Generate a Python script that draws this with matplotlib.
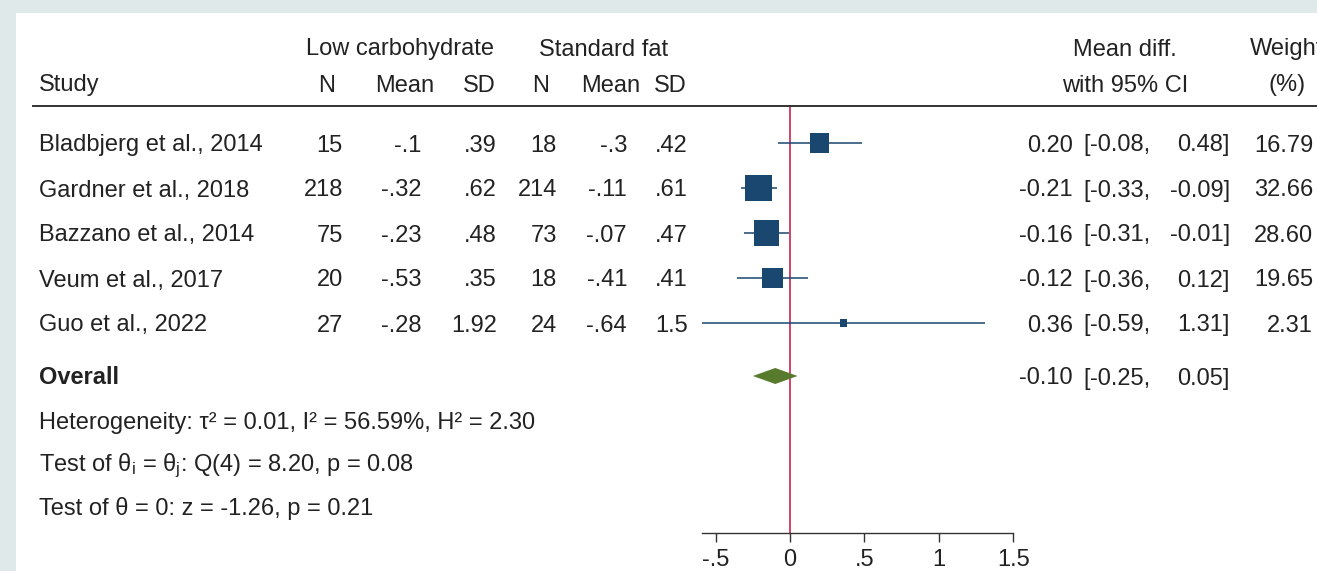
import numpy as np
import matplotlib
matplotlib.use("Agg")
import matplotlib.pyplot as plt
from matplotlib.patches import Rectangle, Polygon
from matplotlib.lines import Line2D
from matplotlib.ticker import FuncFormatter

plt.rcParams['font.family'] = ['Liberation Sans', 'DejaVu Sans']
plt.rcParams['axes.unicode_minus'] = False
plt.rcParams['mathtext.fontset'] = 'custom'
plt.rcParams['mathtext.rm'] = 'Liberation Sans'
plt.rcParams['mathtext.it'] = 'Liberation Sans:italic'
plt.rcParams['mathtext.bf'] = 'Liberation Sans:bold'

# data
studies = ["Bladbjerg et al., 2014", "Gardner et al., 2018", "Bazzano et al., 2014",
           "Veum et al., 2017", "Guo et al., 2022"]
n_low = [15, 218, 75, 20, 27]
mean_low = [-0.1, -0.32, -0.23, -0.53, -0.28]
sd_low = [0.39, 0.62, 0.48, 0.35, 1.92]
n_std = [18, 214, 73, 18, 24]
mean_std = [-0.3, -0.11, -0.07, -0.41, -0.64]
sd_std = [0.42, 0.61, 0.47, 0.41, 1.5]
est = [0.20, -0.21, -0.16, -0.12, 0.36]
ci_lo = [-0.08, -0.33, -0.31, -0.36, -0.59]
ci_hi = [0.48, -0.09, -0.01, 0.12, 1.31]
weight = [16.79, 32.66, 28.60, 19.65, 2.31]
overall = [-0.10, -0.25, 0.05]
xticks = [-0.5, 0, 0.5, 1, 1.5]
stats_lines = ["Heterogeneity: \u03c4\u00b2 = 0.01, I\u00b2 = 56.59%, H\u00b2 = 2.30",
               "Test of \u03b8$_\\mathrm{i}$ = \u03b8$_\\mathrm{j}$: Q(4) = 8.20, p = 0.08",
               "Test of \u03b8 = 0: z = -1.26, p = 0.21"]

W, H = 1317, 571
FS = 17.0
TXT = '#222222'
NAVY = '#1a476f'
GREEN = '#587a2d'
RED = '#c0123e'

# layout (pixels from top-left)
row_y = [143, 188, 233, 278, 323]
overall_y = 376
stats_y = [420, 463, 506]
line_y = 106
axis_y = 533


def sfmt(v):
    # stata style: drop the leading zero
    s = f"{v:g}"
    if s.startswith("0.") or s.startswith("-0."):
        s = s.replace("0.", ".", 1)
    return s


fig = plt.figure(figsize=(W / 100, H / 100), dpi=100)
fig.patch.set_facecolor('#dfe9e9')
fig.add_artist(Rectangle((16 / W, 0), 1, 1 - 13 / H, transform=fig.transFigure,
                         facecolor='white', edgecolor='none', zorder=0))


def put(x, y, s, ha='left', **kw):
    # y is the visual middle of the caps/digits
    fig.text(x / W, 1 - (y + 8.5) / H, s, ha=ha, va='baseline',
             fontsize=FS, color=TXT, **kw)


# header
put(400, 47, "Low carbohydrate", ha='center')
put(604, 47, "Standard fat", ha='center')
put(1125, 47, "Mean diff.", ha='center')
put(1287, 47, "Weight", ha='center')
put(39, 83, "Study")
for cx, lab in zip([327, 405, 479, 541, 611, 670], ["N", "Mean", "SD", "N", "Mean", "SD"]):
    put(cx, 83, lab, ha='center')
put(1125, 83, "with 95% CI", ha='center')
put(1287, 83, "(%)", ha='center')
fig.add_artist(Line2D([33 / W, 1], [1 - line_y / H] * 2, transform=fig.transFigure,
                      color='#333333', lw=1.4))

# table rows
cols_right = [343, 421, 497, 557, 627, 688]
for i, y in enumerate(row_y):
    put(39, y, studies[i])
    vals = [str(n_low[i]), sfmt(mean_low[i]), sfmt(sd_low[i]),
            str(n_std[i]), sfmt(mean_std[i]), sfmt(sd_std[i])]
    for xr, v in zip(cols_right, vals):
        put(xr, y, v, ha='right')
    put(1073, y, f"{est[i]:.2f}", ha='right')
    put(1083, y, "[")
    put(1150, y, f"{ci_lo[i]:.2f},", ha='right')
    put(1230, y, f"{ci_hi[i]:.2f}]", ha='right')
    put(1313, y, f"{weight[i]:.2f}", ha='right')

put(39, overall_y, "Overall", fontweight='bold')
put(1073, overall_y, f"{overall[0]:.2f}", ha='right')
put(1083, overall_y, "[")
put(1150, overall_y, f"{overall[1]:.2f},", ha='right')
put(1230, overall_y, f"{overall[2]:.2f}]", ha='right')

for y, s in zip(stats_y, stats_lines):
    put(39, y, s)

# forest panel
x0, x1 = 702.3, 1013.3
ax = fig.add_axes([x0 / W, 0, (x1 - x0) / W, 1])
ax.set_xlim(min(ci_lo), max(xticks))
ax.set_ylim(H, 0)
ax.patch.set_visible(False)
for side in ['top', 'left', 'right']:
    ax.spines[side].set_visible(False)
ax.spines['bottom'].set_position(('data', axis_y))
ax.spines['bottom'].set_color('#333333')
ax.spines['bottom'].set_linewidth(1.0)
ax.set_yticks([])
ax.set_xticks(xticks)
ax.xaxis.set_major_formatter(FuncFormatter(lambda v, p: sfmt(v)))
ax.tick_params(axis='x', direction='out', length=6.5, width=1.0, color='#333333',
               pad=5, labelsize=FS, labelcolor=TXT)

ax.vlines(0, line_y, axis_y, color=RED, lw=1.1, zorder=1)
ax.hlines(row_y, ci_lo, ci_hi, color=NAVY, lw=1.1, zorder=2)
side_pt = 4.7 * np.sqrt(weight) * 0.72
ax.scatter(est, row_y, s=side_pt ** 2, marker='s', color=NAVY, linewidths=0, zorder=3)
ax.add_patch(Polygon([[overall[1], overall_y], [overall[0], overall_y - 8],
                      [overall[2], overall_y], [overall[0], overall_y + 8]],
                     closed=True, facecolor=GREEN, edgecolor='none', zorder=3))

fig.savefig("out.png", dpi=100)
